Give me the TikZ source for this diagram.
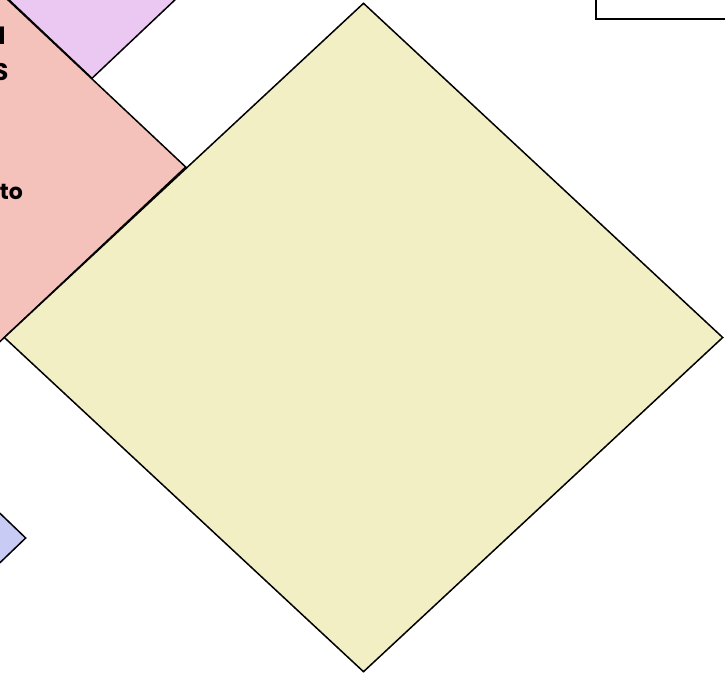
\documentclass[tikz,border=0pt]{standalone}
\usepackage{fontspec}
\setmainfont{Poppins}
\usetikzlibrary{shapes.geometric}
\definecolor{pinkfill}{RGB}{244,194,186}
\definecolor{purplefill}{RGB}{234,200,242}
\definecolor{yellowfill}{RGB}{242,239,196}
\definecolor{bluefill}{RGB}{200,204,244}
\tikzset{
  dia/.style={shape=diamond, draw=black, line width=1.5pt, inner sep=0pt},
  lbl/.style={inner sep=0pt, text=black},
  boxstyle/.style={draw=black, line width=1.6pt, fill=white},
}
\begin{document}
\begin{tikzpicture}[x=1pt,y=-1pt]
\useasboundingbox (0,0) rectangle (725,677);
\clip (0,0) rectangle (725,677);
% purple diamond (upper left)
\node[dia, fill=purplefill, minimum width=400pt, minimum height=378pt] (purple) at (92,-110.4) {};
% pink diamond
\node[dia, fill=pinkfill, minimum width=500pt, minimum height=470pt] (pink) at (-64,167) {};
% blue diamond (lower left)
\node[dia, fill=bluefill, minimum width=200pt, minimum height=192pt] (blue) at (-74,538) {};
% yellow diamond
\node[dia, fill=yellowfill, minimum width=719pt, minimum height=669pt] (yellow) at (363.5,337.5) {};
% top right box
\node[boxstyle, minimum width=250pt, minimum height=80pt, anchor=south west] (box) at (595,20) {};
% text fragments
\node[lbl, anchor=base east, font=\fontsize{25}{30}\selectfont\bfseries] (t1) at (6,45) {N};
\node[lbl, anchor=base east, font=\fontsize{24}{28}\selectfont\bfseries] (t2) at (8.5,80) {S};
\node[lbl, anchor=base east, font=\fontsize{22}{26}\selectfont\bfseries] (t3) at (23,199) {to};
\end{tikzpicture}
\end{document}
